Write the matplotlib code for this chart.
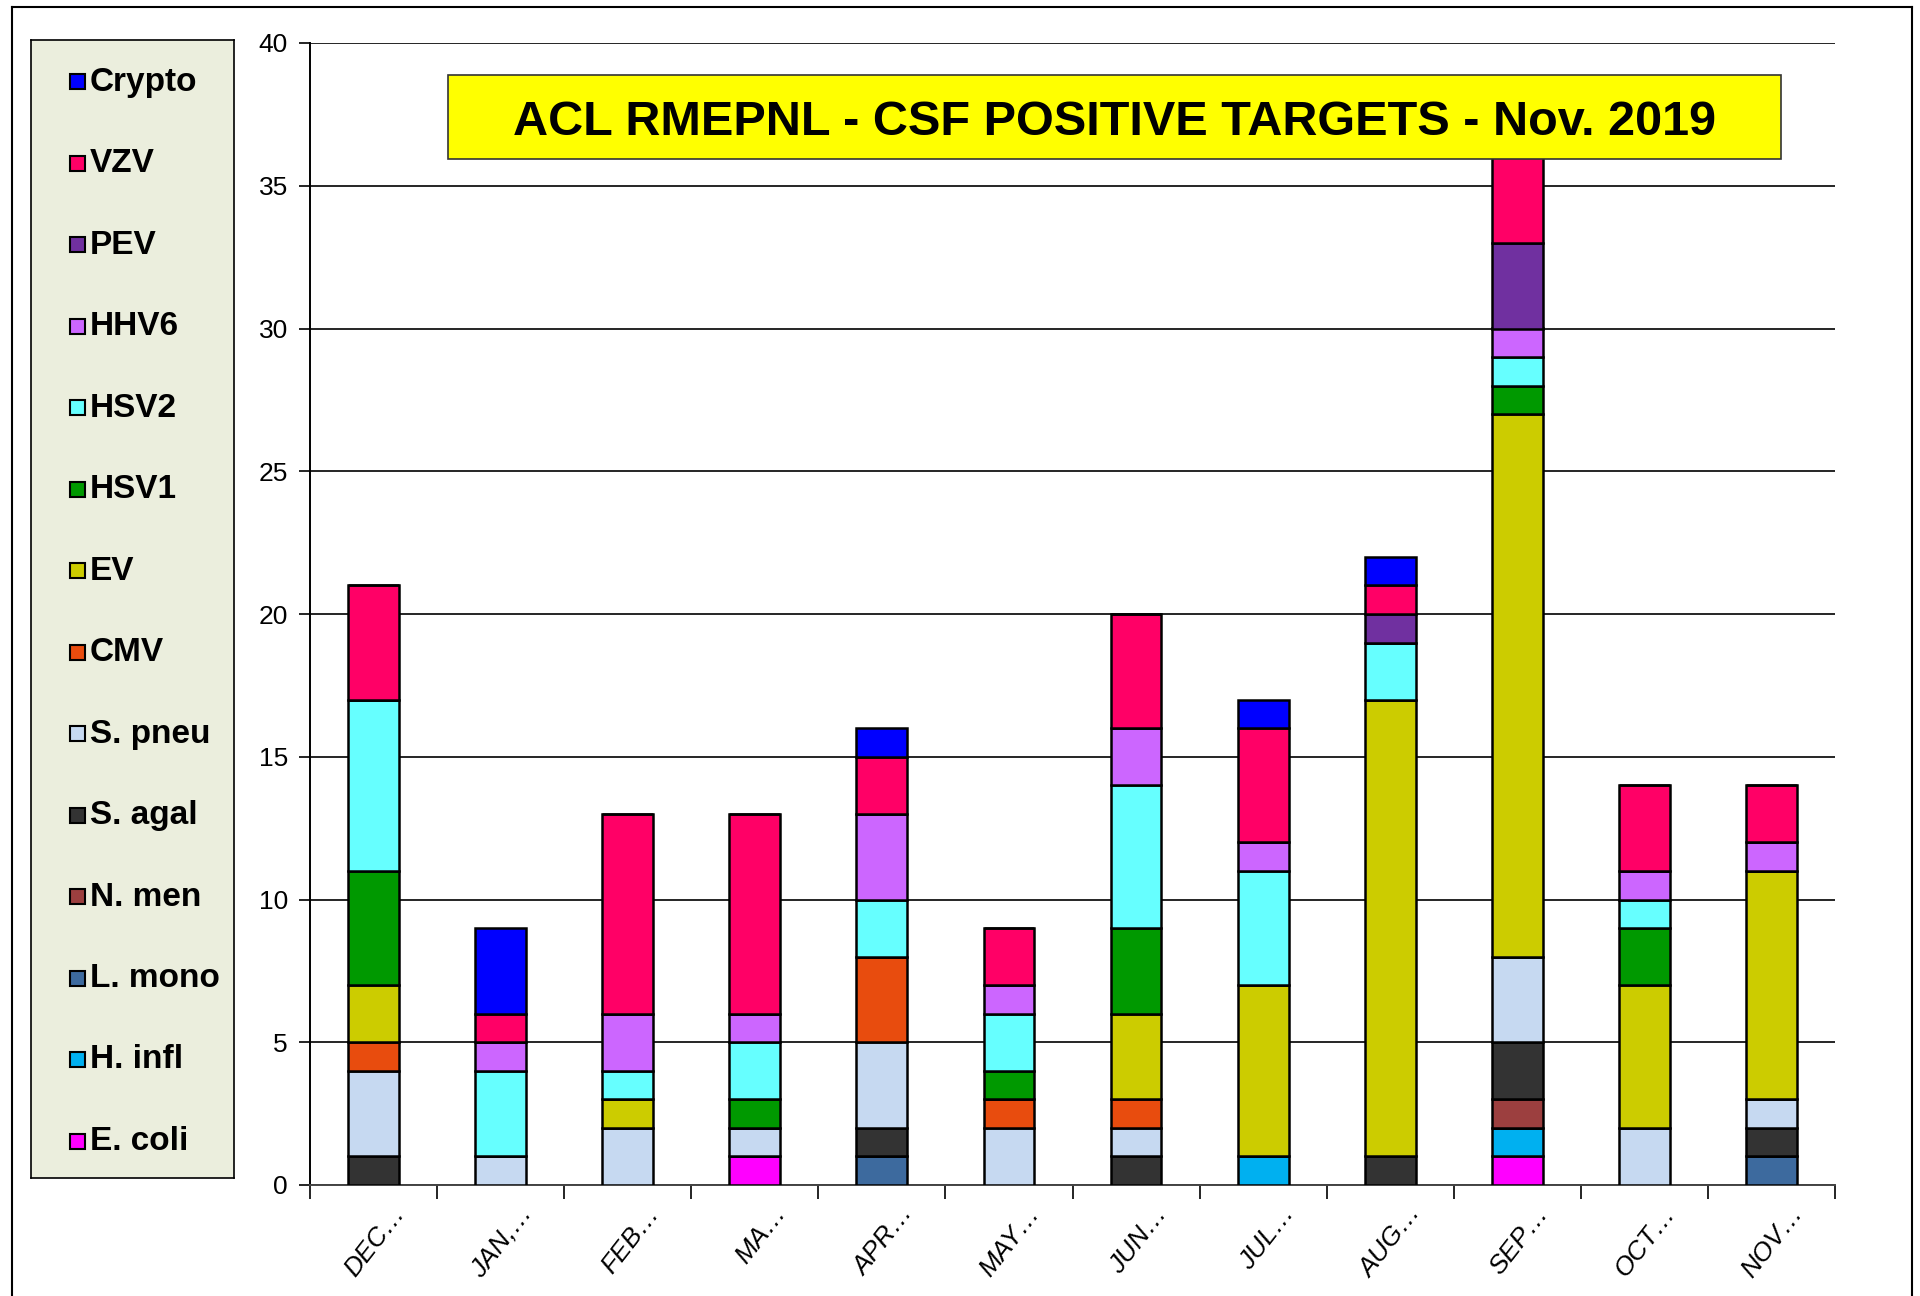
"""CSF positive targets per month, stacked bars (Dec 2018 - Nov 2019)."""

import matplotlib
matplotlib.use("Agg")
import matplotlib.pyplot as plt
import matplotlib.transforms as mtransforms
from matplotlib.patches import Rectangle

plt.rcParams["font.family"] = ["Liberation Sans", "DejaVu Sans"]

W, H = 1920, 1296

months = ["DEC…", "JAN,…", "FEB…", "MA…", "APR…", "MAY…",
          "JUN…", "JUL…", "AUG…", "SEP…", "OCT…", "NOV…"]

# bottom -> top stacking order
targets = ["E. coli", "H. infl", "L. mono", "N. men", "S. agal", "S. pneu",
           "CMV", "EV", "HSV1", "HSV2", "HHV6", "PEV", "VZV", "Crypto"]

e_coli = [0, 0, 0, 1, 0, 0, 0, 0, 0, 1, 0, 0]
h_infl = [0, 0, 0, 0, 0, 0, 0, 1, 0, 1, 0, 0]
l_mono = [0, 0, 0, 0, 1, 0, 0, 0, 0, 0, 0, 1]
n_men = [0, 0, 0, 0, 0, 0, 0, 0, 0, 1, 0, 0]
s_agal = [1, 0, 0, 0, 1, 0, 1, 0, 1, 2, 0, 1]
s_pneu = [3, 1, 2, 1, 3, 2, 1, 0, 0, 3, 2, 1]
cmv = [1, 0, 0, 0, 3, 1, 1, 0, 0, 0, 0, 0]
ev = [2, 0, 1, 0, 0, 0, 3, 6, 16, 19, 5, 8]
hsv1 = [4, 0, 0, 1, 0, 1, 3, 0, 0, 1, 2, 0]
hsv2 = [6, 3, 1, 2, 2, 2, 5, 4, 2, 1, 1, 0]
hhv6 = [0, 1, 2, 1, 3, 1, 2, 1, 0, 1, 1, 1]
pev = [0, 0, 0, 0, 0, 0, 0, 0, 1, 3, 0, 0]
vzv = [4, 1, 7, 7, 2, 2, 4, 4, 1, 3, 3, 2]
crypto = [0, 3, 0, 0, 1, 0, 0, 1, 1, 0, 0, 0]

series = [e_coli, h_infl, l_mono, n_men, s_agal, s_pneu, cmv, ev,
          hsv1, hsv2, hhv6, pev, vzv, crypto]

colors = ["#FF00FF", "#00B0F0", "#3D6A9E", "#9C3F3F", "#333333", "#C6D9F1",
          "#E84C0E", "#CCCC00", "#009900", "#66FFFF", "#CC66FF", "#7030A0",
          "#FF0066", "#0000FF"]

title = "ACL RMEPNL - CSF POSITIVE TARGETS - Nov. 2019"

fig = plt.figure(figsize=(W / 100, H / 100), dpi=100)


def px(x0, y0, x1, y1):
    # pixel box (top-left origin) -> figure fraction rect
    return [x0 / W, 1 - y1 / H, (x1 - x0) / W, (y1 - y0) / H]


# outer frame (no bottom edge visible in the original)
fig.add_artist(plt.Line2D([12 / W, 12 / W], [0, 1 - 7 / H], color="black", lw=1.5))
fig.add_artist(plt.Line2D([1912 / W, 1912 / W], [0, 1 - 7 / H], color="black", lw=1.5))
fig.add_artist(plt.Line2D([12 / W, 1912 / W], [1 - 7 / H, 1 - 7 / H], color="black", lw=1.5))

ax = fig.add_axes(px(310, 43, 1835, 1185))
x = list(range(len(months)))
bottom = [0] * len(months)
for vals, col, name in zip(series, colors, targets):
    ax.bar(x, vals, 0.4, bottom=bottom, color=col, edgecolor="black",
           linewidth=1.8, label=name, zorder=3)
    bottom = [b + v for b, v in zip(bottom, vals)]

ax.set_xlim(-0.5, len(months) - 0.5)
ax.set_ylim(0, 40)
ax.set_yticks(range(0, 41, 5))
ax.yaxis.grid(True, color="black", linewidth=1.2, zorder=0)
ax.set_axisbelow(True)
ax.tick_params(axis="y", length=8, width=1.2, labelsize=19, pad=8)
ax.set_xticks([i + 0.5 for i in range(-1, len(months))], minor=False)
ax.set_xticklabels([])
ax.set_xticks(x, minor=True)
ax.set_xticklabels(months, minor=True, rotation=52, ha="right",
                   rotation_mode="anchor", fontsize=19, style="italic")
ax.tick_params(axis="x", which="major", length=10, width=1.2, direction="out")
ax.tick_params(axis="x", which="minor", length=0, pad=12)
shift = mtransforms.ScaledTranslation(0.17, 0, fig.dpi_scale_trans)
for lbl in ax.get_xticklabels(minor=True):
    lbl.set_transform(lbl.get_transform() + shift)
for s in ("top", "right"):
    ax.spines[s].set_visible(False)
ax.spines["left"].set_linewidth(1.4)
ax.spines["bottom"].set_linewidth(1.4)
ax.spines["bottom"].set_color("#444444")

# title box
fig.add_artist(Rectangle((448 / W, 1 - 159 / H), (1781 - 448) / W, 84 / H,
                         transform=fig.transFigure, facecolor="#FFFF00",
                         edgecolor="#333333", linewidth=1.2, zorder=9))
fig.text(1114.5 / W, 1 - 135 / H, title, ha="center", va="baseline",
         fontsize=35, fontweight="bold", zorder=10)

# legend panel
lax = fig.add_axes(px(31, 40, 234, 1178))
lax.set_xlim(0, 203)
lax.set_ylim(1138, 0)
lax.set_xticks([])
lax.set_yticks([])
lax.set_facecolor("#EBEEDD")
for s in lax.spines.values():
    s.set_linewidth(1.2)
for i, (name, col) in enumerate(zip(targets[::-1], colors[::-1])):
    yc = 42 + i * 81.5
    lax.add_patch(Rectangle((39, yc - 8), 15, 15, facecolor=col,
                            edgecolor="black", linewidth=1.5))
    lax.text(59, yc, name, va="center", ha="left", fontsize=24,
             fontweight="bold")

fig.savefig("out.png", dpi=100)
